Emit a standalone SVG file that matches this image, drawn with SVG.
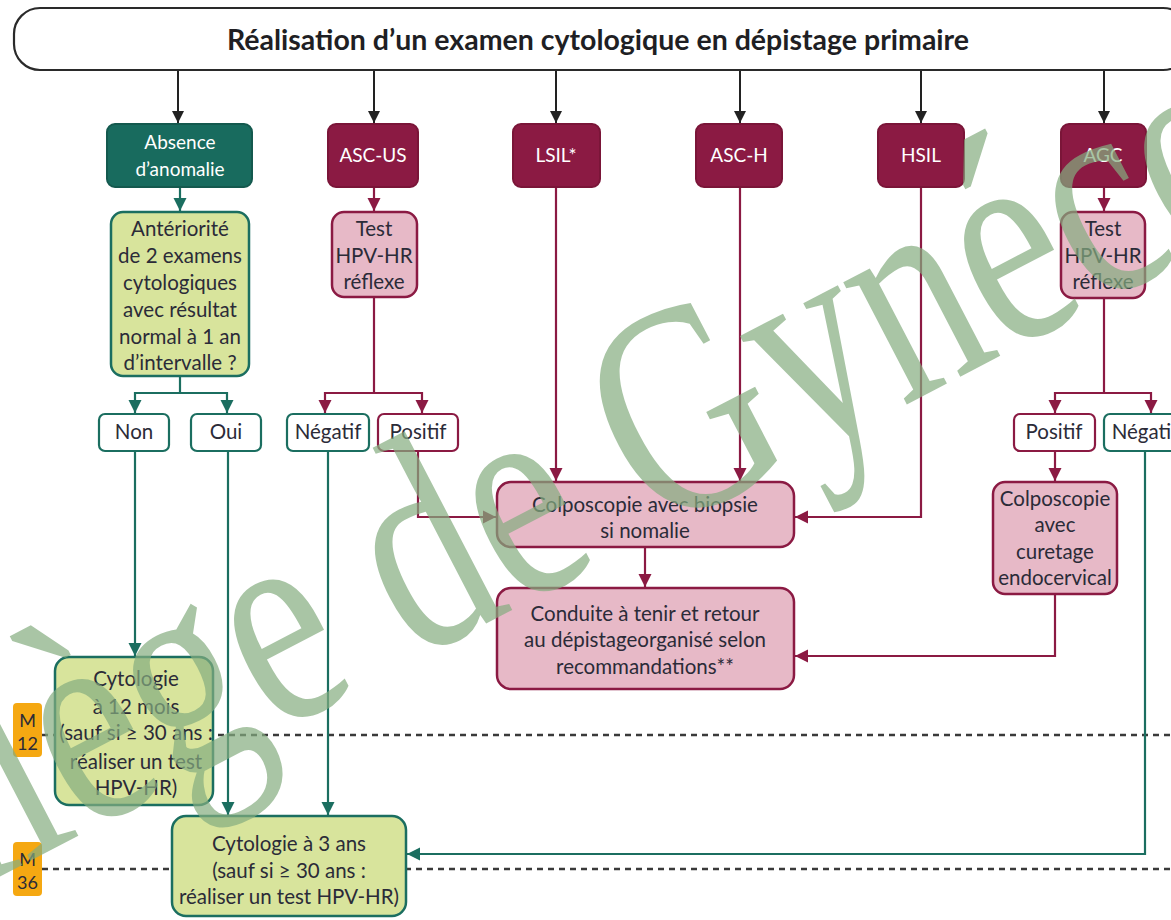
<svg xmlns="http://www.w3.org/2000/svg" width="1171" height="920" viewBox="0 0 1171 920">
<defs>
<style>
.t{font-family:Lato,"Open Sans","Liberation Sans",sans-serif;font-size:20.5px;fill:#2b2b38;text-anchor:middle}
.w{fill:#ffffff;font-size:19px}
.title{font-family:Lato,"Open Sans","Liberation Sans",sans-serif;font-size:28.5px;font-weight:bold;fill:#1f1f24;text-anchor:middle}
.mr{fill:#8b1a43;stroke:#7a1538;stroke-width:2}
.tl{fill:#186b5e;stroke:#14594e;stroke-width:2}
.pk{fill:#e7b9c7;stroke:#8b1a43;stroke-width:2.5}
.gr{fill:#d8e49c;stroke:#1b6e60;stroke-width:2.5}
.wt{fill:#ffffff;stroke:#1b6e60;stroke-width:2.2}
.wm{fill:#ffffff;stroke:#8b1a43;stroke-width:2.2}
.cb{fill:none;stroke:#222;stroke-width:2}
.ct{fill:none;stroke:#1b6e60;stroke-width:2.2}
.cm{fill:none;stroke:#8b1a43;stroke-width:2.2}
.dash{fill:none;stroke:#3a3a3a;stroke-width:2.5;stroke-dasharray:6 5}
.badge{fill:#f5a812}
.bt{font-family:Lato,"Open Sans","Liberation Sans",sans-serif;font-size:18px;fill:#2b2b38;text-anchor:middle}
</style>
<marker id="ab" viewBox="0 0 10 10" refX="10" refY="5" markerWidth="6" markerHeight="6" markerUnits="strokeWidth" orient="auto"><path d="M0,0 L10,5 L0,10 z" fill="#222"/></marker>
<marker id="at" viewBox="0 0 10 10" refX="10" refY="5" markerWidth="6" markerHeight="6" markerUnits="strokeWidth" orient="auto"><path d="M0,0 L10,5 L0,10 z" fill="#1b6e60"/></marker>
<marker id="am" viewBox="0 0 10 10" refX="10" refY="5" markerWidth="6" markerHeight="6" markerUnits="strokeWidth" orient="auto"><path d="M0,0 L10,5 L0,10 z" fill="#8b1a43"/></marker>
</defs>
<rect width="1171" height="920" fill="#ffffff"/>

<g id="timeline">
<line class="dash" x1="42" y1="735" x2="1171" y2="735"/>
<line class="dash" x1="42" y1="869" x2="1171" y2="869"/>
<g id="m12"><rect class="badge" x="13" y="703" width="29" height="54" rx="4"/><text class="bt" x="27.5" y="727">M</text><text class="bt" x="27.5" y="750">12</text></g>
<g id="m36"><rect class="badge" x="13" y="842" width="29" height="54" rx="4"/><text class="bt" x="27.5" y="866">M</text><text class="bt" x="27.5" y="889">36</text></g>
</g>

<g id="connectors">
<path class="cb" d="M178,70 V123" marker-end="url(#ab)"/>
<path class="cb" d="M374,70 V123" marker-end="url(#ab)"/>
<path class="cb" d="M556,70 V123" marker-end="url(#ab)"/>
<path class="cb" d="M740,70 V123" marker-end="url(#ab)"/>
<path class="cb" d="M921,70 V123" marker-end="url(#ab)"/>
<path class="cb" d="M1104,70 V123" marker-end="url(#ab)"/>
<path class="ct" d="M180,187 V211" marker-end="url(#at)"/>
<path class="cm" d="M374,187 V211" marker-end="url(#am)"/>
<path class="cm" d="M1104,187 V211" marker-end="url(#am)"/>
<path class="ct" d="M180,376 V393 H135 V413" marker-end="url(#at)"/>
<path class="ct" d="M180,393 H227 V413" marker-end="url(#at)"/>
<path class="cm" d="M374,297 V393 H325 V413" marker-end="url(#am)"/>
<path class="cm" d="M374,393 H422 V413" marker-end="url(#am)"/>
<path class="cm" d="M1104,298 V393 H1055 V413" marker-end="url(#am)"/>
<path class="cm" d="M1104,393 H1151 V413" marker-end="url(#am)"/>
<path class="ct" d="M135,451 V656" marker-end="url(#at)"/>
<path class="ct" d="M228,451 V815" marker-end="url(#at)"/>
<path class="ct" d="M328,451 V815" marker-end="url(#at)"/>
<path class="cm" d="M418,451 V517 H496" marker-end="url(#am)"/>
<path class="cm" d="M556,187 V481" marker-end="url(#am)"/>
<path class="cm" d="M740,187 V481" marker-end="url(#am)"/>
<path class="cm" d="M921,187 V517 H795" marker-end="url(#am)"/>
<path class="cm" d="M645,547 V587" marker-end="url(#am)"/>
<path class="cm" d="M1055,451 V481" marker-end="url(#am)"/>
<path class="cm" d="M1055,594 V656 H795" marker-end="url(#am)"/>
<path class="ct" d="M1145,451 V854 H407" marker-end="url(#at)"/>
</g>

<g id="title">
<rect x="14" y="8" width="1175" height="62" rx="26" fill="#ffffff" stroke="#2a2a2a" stroke-width="2.2"/>
<text class="title" x="598" y="50">Réalisation d’un examen cytologique en dépistage primaire</text>
</g>

<g id="absence"><rect class="tl" x="107" y="124" width="145" height="63" rx="8"/><text class="t w" x="180" y="149">Absence</text><text class="t w" x="180" y="176">d’anomalie</text></g>
<g id="ascus"><rect class="mr" x="328" y="124" width="90" height="63" rx="8"/><text class="t w" x="373" y="162">ASC-US</text></g>
<g id="lsil"><rect class="mr" x="513" y="124" width="87" height="63" rx="8"/><text class="t w" x="556" y="162">LSIL*</text></g>
<g id="asch"><rect class="mr" x="696" y="124" width="86" height="63" rx="8"/><text class="t w" x="739" y="162">ASC-H</text></g>
<g id="hsil"><rect class="mr" x="878" y="124" width="86" height="63" rx="8"/><text class="t w" x="921" y="162">HSIL</text></g>
<g id="agc"><rect class="mr" x="1061" y="124" width="85" height="63" rx="8"/><text class="t w" x="1103" y="162">AGC</text></g>

<g id="anteriorite"><rect class="gr" x="111" y="212" width="138" height="164" rx="12"/>
<text class="t" x="180" y="236">Antériorité</text><text class="t" x="180" y="263">de 2 examens</text><text class="t" x="180" y="290">cytologiques</text><text class="t" x="180" y="317">avec résultat</text><text class="t" x="180" y="344">normal à 1 an</text><text class="t" x="180" y="370">d’intervalle ?</text></g>
<g id="test-ascus"><rect class="pk" x="332" y="212" width="85" height="85" rx="12"/>
<text class="t" x="374" y="236">Test</text><text class="t" x="374" y="263">HPV-HR</text><text class="t" x="374" y="289">réflexe</text></g>
<g id="test-agc"><rect class="pk" x="1061" y="212" width="84" height="86" rx="12"/>
<text class="t" x="1103" y="236">Test</text><text class="t" x="1103" y="263">HPV-HR</text><text class="t" x="1103" y="289">réflexe</text></g>

<g id="non"><rect class="wt" x="99" y="414" width="70" height="37" rx="6"/><text class="t" x="134" y="439">Non</text></g>
<g id="oui"><rect class="wt" x="191" y="414" width="70" height="37" rx="6"/><text class="t" x="226" y="439">Oui</text></g>
<g id="negatif-ascus"><rect class="wt" x="287" y="414" width="82" height="37" rx="6"/><text class="t" x="328" y="439">Négatif</text></g>
<g id="positif-ascus"><rect class="wm" x="378" y="414" width="80" height="37" rx="6"/><text class="t" x="418" y="439">Positif</text></g>
<g id="positif-agc"><rect class="wm" x="1014" y="414" width="81" height="37" rx="6"/><text class="t" x="1054" y="439">Positif</text></g>
<g id="negatif-agc"><rect class="wt" x="1104" y="414" width="82" height="37" rx="6"/><text class="t" x="1145" y="439">Négatif</text></g>

<g id="colpo-biopsie"><rect class="pk" x="497" y="482" width="297" height="65" rx="14"/><text class="t" x="645" y="512">Colposcopie avec biopsie</text><text class="t" x="645" y="538">si nomalie</text></g>
<g id="conduite"><rect class="pk" x="497" y="588" width="297" height="101" rx="14"/><text class="t" x="645" y="621">Conduite à tenir et retour</text><text class="t" x="645" y="647">au dépistageorganisé selon</text><text class="t" x="645" y="674">recommandations**</text></g>
<g id="colpo-curetage"><rect class="pk" x="993" y="482" width="124" height="112" rx="12"/><text class="t" x="1055" y="506">Colposcopie</text><text class="t" x="1055" y="532">avec</text><text class="t" x="1055" y="559">curetage</text><text class="t" x="1055" y="585">endocervical</text></g>

<g id="cyto12"><rect class="gr" x="55" y="657" width="158" height="148" rx="14"/><text class="t" x="136" y="686">Cytologie</text><text class="t" x="136" y="714">à 12 mois</text><text class="t" x="136" y="740">(sauf si ≥ 30 ans :</text><text class="t" x="136" y="769">réaliser un test</text><text class="t" x="136" y="795">HPV-HR)</text></g>
<g id="cyto3"><rect class="gr" x="172" y="816" width="234" height="100" rx="14"/><text class="t" x="289" y="851">Cytologie à 3 ans</text><text class="t" x="289" y="878">(sauf si ≥ 30 ans :</text><text class="t" x="289" y="904">réaliser un test HPV-HR)</text></g>

<g id="watermark" opacity="0.7"><text x="0" y="0" transform="translate(-266,1015) rotate(-27.5) scale(0.76,1)" font-family="'Liberation Serif',serif" font-size="300" fill="#85ad80">Collège de Gynéco</text></g>
</svg>
